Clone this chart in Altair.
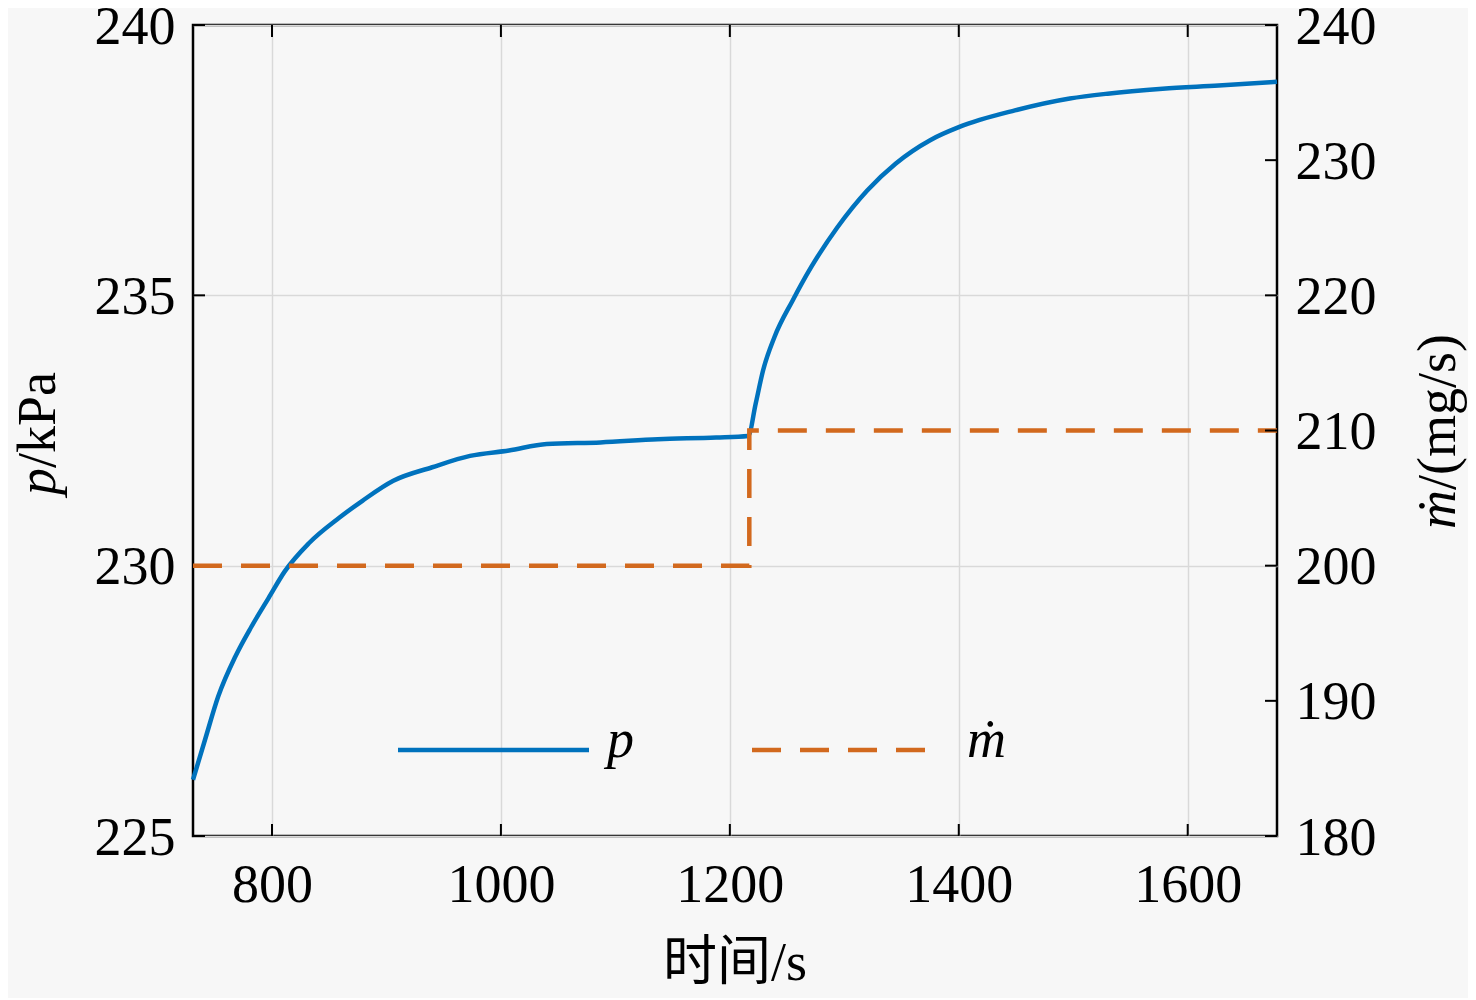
import altair as alt
import pandas as pd

# ---- data ----
t_p = [731, 741.5, 753, 768, 782, 797, 811, 832, 859, 879, 906, 940, 973, 1007,
       1040, 1087, 1137, 1188, 1216, 1222.6, 1229, 1239, 1255, 1271, 1294, 1320,
       1345, 1375, 1400, 1449, 1497, 1530, 1578, 1627, 1678]
p_vals = [226.04, 226.78, 227.58, 228.32, 228.87, 229.40, 229.89, 230.41, 230.89,
          231.20, 231.57, 231.82, 232.03, 232.13, 232.25, 232.28, 232.34, 232.37,
          232.40, 233.00, 233.61, 234.23, 234.91, 235.52, 236.26, 236.94, 237.44,
          237.87, 238.11, 238.42, 238.64, 238.73, 238.82, 238.88, 238.95]
t_m = [731, 1217, 1217, 1678]
m_vals = [200, 200, 210, 210]

x_ticks = [800, 1000, 1200, 1400, 1600]
p_ticks = [225, 230, 235, 240]
m_ticks = [180, 190, 200, 210, 220, 230, 240]

W, H = 1084, 811
FONT = "Liberation Serif"
CJK = "Liberation Serif, Noto Sans CJK SC"
BLUE = "#0072BD"
ORANGE = "#D2691E"
FS = 54
TICK = 12

df_p = pd.DataFrame({"t": t_p, "p": p_vals})
df_m = pd.DataFrame({"t": t_m, "m": m_vals, "idx": list(range(len(t_m)))})
df_xt = pd.DataFrame({"t": x_ticks})
df_pt = pd.DataFrame({"p": p_ticks})
df_mt = pd.DataFrame({"m": m_ticks})


def xenc(field="t"):
    return alt.X(f"{field}:Q",
                 scale=alt.Scale(domain=[731, 1678], nice=False, zero=False),
                 axis=alt.Axis(values=x_ticks, title="", grid=True, ticks=False,
                               domain=False, labelPadding=22, format="d",
                               labelFont=FONT, labelFontSize=FS, labelColor="black",
                               gridColor="#d9d9d9", gridWidth=1.5))


p_y = alt.Y("p:Q", scale=alt.Scale(domain=[225, 240], nice=False, zero=False),
            axis=alt.Axis(orient="left", values=p_ticks, title="", grid=True,
                          ticks=False, domain=False, labelPadding=18, labelOffset=2,
                          labelFont=FONT, labelFontSize=FS, labelColor="black",
                          gridColor="#d9d9d9", gridWidth=1.5))
m_y = alt.Y("m:Q", scale=alt.Scale(domain=[180, 240], nice=False, zero=False),
            axis=alt.Axis(orient="right", values=m_ticks, title="", grid=False,
                          ticks=False, domain=False, labelPadding=18, labelOffset=2,
                          labelFont=FONT, labelFontSize=FS, labelColor="black"))

p_line = alt.Chart(df_p).mark_line(color=BLUE, strokeWidth=4.5,
                                   interpolate="monotone").encode(
    x=xenc(), y=p_y, order="t:Q")
p_tick = alt.Chart(df_pt).mark_rule(color="black", strokeWidth=2).encode(
    y=p_y, x=alt.value(0), x2=alt.value(TICK))

bottom_tick = alt.Chart(df_xt).mark_rule(color="black", strokeWidth=2).encode(
    x=xenc(), y=alt.value(H), y2=alt.value(H - TICK))
top_tick = alt.Chart(df_xt).mark_rule(color="black", strokeWidth=2).encode(
    x=xenc(), y=alt.value(0), y2=alt.value(TICK))

m_line = alt.Chart(df_m).mark_line(
    color=ORANGE, strokeWidth=4.5, strokeDash=[29, 19]).encode(
    x=xenc(), y=m_y, order=alt.Order("idx:Q"))
m_tick = alt.Chart(df_mt).mark_rule(color="black", strokeWidth=2).encode(
    y=m_y, x=alt.value(W), x2=alt.value(W - TICK))


def txt(s, x, y, align="left", italic=False, angle=0, font=FONT):
    kw = dict(font=font, fontSize=FS, align=align, baseline="alphabetic",
              color="black")
    if italic:
        kw["fontStyle"] = "italic"
    if angle:
        kw["angle"] = angle
    return alt.Chart(pd.DataFrame({"s": [s]})).mark_text(**kw).encode(
        text="s:N", x=alt.value(x), y=alt.value(y))


# axis titles
yl_p = txt("p", -138, 443, align="right", italic=True, angle=270)
yl_u = txt("/kPa", -138, 443, align="left", angle=270)
yr_m = txt("\u1e41", 1262, 465, align="right", italic=True, angle=270)
yr_u = txt("/(mg/s)", 1262, 465, align="left", angle=270)
xl = txt("时间/s", 542, 955, align="center", font=CJK)

# legend
leg_p = alt.Chart(pd.DataFrame({"s": ["p"]})).mark_rule(
    color=BLUE, strokeWidth=4.5).encode(x=alt.value(205), x2=alt.value(396),
                                        y=alt.value(725))
leg_m = alt.Chart(pd.DataFrame({"s": ["m"]})).mark_rule(
    color=ORANGE, strokeWidth=4.5, strokeDash=[29, 19]).encode(
    x=alt.value(559), x2=alt.value(737), y=alt.value(725))
leg_pt = txt("p", 414, 732, italic=True)
leg_mt = txt("\u1e41", 774, 732, italic=True)

left = alt.layer(p_line, p_tick, bottom_tick, top_tick, yl_p, yl_u, yr_m, yr_u,
                 xl, leg_p, leg_m, leg_pt, leg_mt)
right = alt.layer(m_line, m_tick)

chart = alt.layer(left, right).resolve_scale(y="independent").properties(
    width=W, height=H,
    autosize=alt.AutoSizeParams(type="none"),
    padding={"left": 185, "top": 17, "right": 191, "bottom": 162},
    background="#f7f7f7",
).configure_view(stroke="black", strokeWidth=2.5, fill="#f7f7f7")

chart.save("out.html", embed_options={"renderer": "svg", "actions": False})
